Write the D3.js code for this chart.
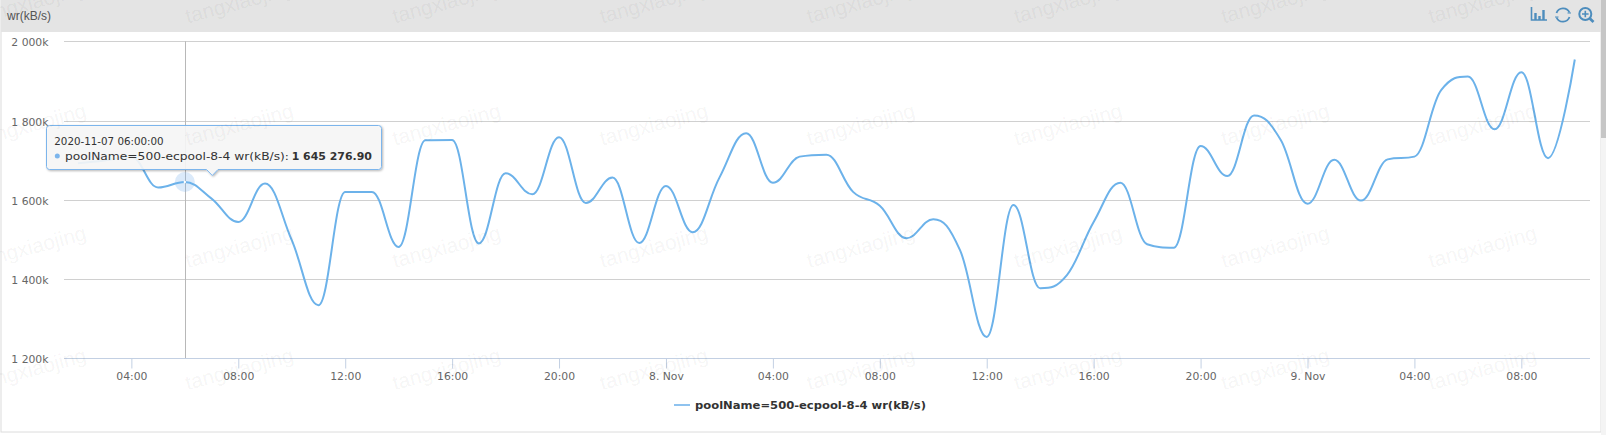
<!DOCTYPE html>
<html><head><meta charset="utf-8">
<script src="https://cdnjs.cloudflare.com/ajax/libs/d3/7.8.5/d3.min.js"></script>
<style>
html,body{margin:0;padding:0;background:#fff;overflow:hidden}
svg{display:block}
text{font-family:"DejaVu Sans",sans-serif}
</style></head><body>
<svg id="c" width="1606" height="435"></svg>
<script>
const seriesName = "poolName=500-ecpool-8-4 wr(kB/s)";
const panelTitle = "wr(kB/s)";
const watermark = "tangxiaojing";
const startTime = "2020-11-07T02:00:00Z";
const values = [1692,1699,1708,1631,1645,1603,1544,1641,1498,1334,1620,1620,1481,1750,1751,1490,1667,1614,1758,1592,1656,1491,1635,1518,1656,1768,1643,1709,1714,1620,1585,1503,1551,1473,1254,1587,1377,1410,1544,1643,1488,1479,1736,1660,1813,1751,1590,1701,1598,1702,1709,1877,1911,1778,1922,1705,1954];
const yTicks = [1200,1400,1600,1800,2000];
const xTickHours = [4,8,12,16,20,24,28,32,36,40,44,48,52,56];
const tooltipDate = "2020-11-07 06:00:00";
const tooltipValue = "1 645 276.90";
const hoverIndex = 4;

const t0 = Date.parse(startTime);
const dates = values.map((_, i) => new Date(t0 + i * 3600e3));
const day0 = Date.parse("2020-11-07T00:00:00Z");
const left = 64, right = 1590, top_ = 41.3, bottom = 358.3;
const x = d3.scaleUtc().domain([dates[0], dates[dates.length - 1]]).range([77.9, 1574.8]);
const y = d3.scaleLinear().domain([1200, 2000]).range([bottom, top_]);
const svg = d3.select("#c");

// Spline with flat extremes (same construction as the original chart's smooth line)
function chartSpline(ctx) {
  let pts = [];
  return {
    lineStart() { pts = []; }, areaStart() {}, areaEnd() {},
    point(a, b) { pts.push({x: +a, y: +b}); },
    lineEnd() {
      const s = 1.5, d = 2.5;
      pts.forEach((p, i) => {
        if (i > 0 && i < pts.length - 1) {
          const l = pts[i - 1], n = pts[i + 1];
          let lx = (s * p.x + l.x) / d, ly = (s * p.y + l.y) / d;
          let rx = (s * p.x + n.x) / d, ry = (s * p.y + n.y) / d;
          const c = ((ry - ly) * (rx - p.x)) / (rx - lx) + p.y - ry;
          ly += c; ry += c;
          if (ly > l.y && ly > p.y) { ly = Math.max(l.y, p.y); ry = 2 * p.y - ly; }
          else if (ly < l.y && ly < p.y) { ly = Math.min(l.y, p.y); ry = 2 * p.y - ly; }
          if (ry > n.y && ry > p.y) { ry = Math.max(n.y, p.y); ly = 2 * p.y - ry; }
          else if (ry < n.y && ry < p.y) { ry = Math.min(n.y, p.y); ly = 2 * p.y - ry; }
          p.lx = lx; p.ly = ly; p.rx = rx; p.ry = ry;
        }
      });
      pts.forEach((p, i) => {
        if (i === 0) ctx.moveTo(p.x, p.y);
        else {
          const q = pts[i - 1];
          ctx.bezierCurveTo(q.rx ?? q.x, q.ry ?? q.y, p.lx ?? p.x, p.ly ?? p.y, p.x, p.y);
        }
      });
    }
  };
}

// panel chrome
svg.append("rect").attr("x",1).attr("y",0).attr("width",1600).attr("height",432).attr("fill","#fff").attr("stroke","#dcdcdc");
svg.append("rect").attr("x",1).attr("y",0).attr("width",1600).attr("height",32).attr("fill","#e4e4e4");
svg.append("rect").attr("x",1601).attr("y",0).attr("width",5).attr("height",435).attr("fill","#f4f4f4");
svg.append("rect").attr("x",1601).attr("y",0).attr("width",5).attr("height",138).attr("fill","#c6c6c6");
svg.append("text").text(panelTitle).attr("x",7).attr("y",20).attr("fill","#555")
   .style("font-family","'Liberation Sans',sans-serif").style("font-size","12px");

// icons
const ic = svg.append("g").attr("fill","none").attr("stroke","#4d8dbd");
ic.append("path").attr("stroke-width",1.6).attr("d","M1531.5 7V20H1547");
ic.append("path").attr("stroke-width",2.4).attr("d","M1535.5 20V13M1539.5 20V16M1543.5 20V10");
ic.append("path").attr("stroke-width",1.8).attr("d","M1556.5 13A7 7 0 0 1 1569.5 12.5M1569.5 17A7 7 0 0 1 1556.5 17.5");
ic.append("path").attr("stroke-width",1.2).attr("d","M1567.5 13H1571M1558.5 17H1555");
ic.append("circle").attr("cx",1585.3).attr("cy",14).attr("r",6).attr("stroke-width",2);
ic.append("path").attr("stroke-width",2.8).attr("d","M1589.8 18.5L1593.5 22");
ic.append("path").attr("stroke-width",1.6).attr("d","M1582 14H1588.6M1585.3 10.7V17.3");

// grid
svg.append("g").selectAll("line").data(yTicks.filter(d => d !== 1200)).join("line")
  .attr("x1",left).attr("x2",right).attr("y1",d=>Math.round(y(d))+.5).attr("y2",d=>Math.round(y(d))+.5)
  .attr("stroke","#d0d0d0");

// y axis
const yFmt = d => d3.format(",")(d).replace(",", " ") + "k";
const gy = svg.append("g").attr("transform",`translate(${left},0)`)
  .call(d3.axisLeft(y).tickValues(yTicks).tickSize(0).tickPadding(15.5).tickFormat(yFmt));
gy.select(".domain").remove();
gy.selectAll("text").attr("fill","#666").style("font-size","10.8px").attr("dy","0.42em");

// crosshair
const hx = Math.floor(x(dates[hoverIndex])) + 1.5;
svg.append("line").attr("x1",hx).attr("x2",hx).attr("y1",top_).attr("y2",bottom)
  .attr("stroke","#b8b8b8");

// x axis
const gx = svg.append("g").attr("transform",`translate(0,${Math.round(bottom)+.5})`)
  .call(d3.axisBottom(x).tickValues(xTickHours.map(h=>new Date(day0+h*3600e3))).tickSize(10).tickPadding(4)
    .tickFormat(d=>d3.utcHour(d)-d3.utcDay(d)===0 ? d3.utcFormat("%-d. %b")(d) : d3.utcFormat("%H:%M")(d)));
gx.select(".domain").attr("d",`M${left},0H${right}`).attr("stroke","#c3d0e3");
gx.selectAll(".tick line").attr("stroke","#c3d0e3");
gx.selectAll("text").attr("fill","#666").style("font-size","10.8px");

// series
const line = d3.line().x((_, i)=>x(dates[i])).y(d=>y(d)).curve(chartSpline);
svg.append("circle").attr("cx",x(dates[hoverIndex])).attr("cy",y(values[hoverIndex])).attr("r",10)
  .attr("fill","#7cb5ec").attr("opacity",.28);
svg.append("path").datum(values).attr("d",line).attr("fill","none").attr("stroke","#6cb2ea").attr("stroke-width",2).attr("stroke-linejoin","round");
svg.append("circle").attr("cx",x(dates[hoverIndex])).attr("cy",y(values[hoverIndex])).attr("r",1.2).attr("fill","#fff");

// legend
svg.append("line").attr("x1",674).attr("x2",690).attr("y1",405).attr("y2",405).attr("stroke","#8fc3ef").attr("stroke-width",2);
svg.append("text").text(seriesName).attr("x",695).attr("y",409).attr("fill","#333")
  .style("font-size","11px").style("font-weight","bold").attr("textLength",231).attr("lengthAdjust","spacingAndGlyphs");

// tooltip
const tipD = "M49.5 125.5H378.5A3 3 0 0 1 381.5 128.5V166.5A3 3 0 0 1 378.5 169.5H218L212.3 175.5L206.5 169.5H49.5A3 3 0 0 1 46.5 166.5V128.5A3 3 0 0 1 49.5 125.5Z";
const defs = svg.append("defs");
const f = defs.append("filter").attr("id","sh").attr("x","-5%").attr("y","-20%").attr("width","110%").attr("height","150%");
f.append("feDropShadow").attr("dx",1).attr("dy",1).attr("stdDeviation",1.2).attr("flood-color","#000").attr("flood-opacity",.3);
svg.append("path").attr("d",tipD).attr("fill","rgba(249,249,249,.88)").attr("stroke","#7cb5ec").attr("stroke-width",1).attr("filter","url(#sh)");
svg.append("text").text(tooltipDate).attr("x",54.3).attr("y",145).attr("fill","#333").style("font-size","10.3px");
svg.append("circle").attr("cx",57.3).attr("cy",156).attr("r",2.5).attr("fill","#7cb5ec");
svg.append("text").text(seriesName+": ").attr("x",65).attr("y",160).attr("fill","#333").style("font-size","11px")
  .attr("textLength",224).attr("lengthAdjust","spacingAndGlyphs");
svg.append("text").text(tooltipValue).attr("x",291.7).attr("y",160).attr("fill","#333").style("font-size","11px").style("font-weight","bold")
  .attr("textLength",80.3).attr("lengthAdjust","spacingAndGlyphs");

// watermark
const wm = svg.append("g").attr("fill","#000").attr("fill-opacity",.055)
  .style("pointer-events","none");
for (const cy of d3.range(0,4)) for (const cx of d3.range(0,8)) {
  wm.append("text").text(watermark)
    .attr("transform",`translate(${32+cx*207.2},${2+cy*122.3}) rotate(-15)`)
    .attr("text-anchor","middle").attr("dy","0.35em")
    .style("font-family","'Liberation Sans',sans-serif").style("font-size","20.8px");
}
</script></body></html>
